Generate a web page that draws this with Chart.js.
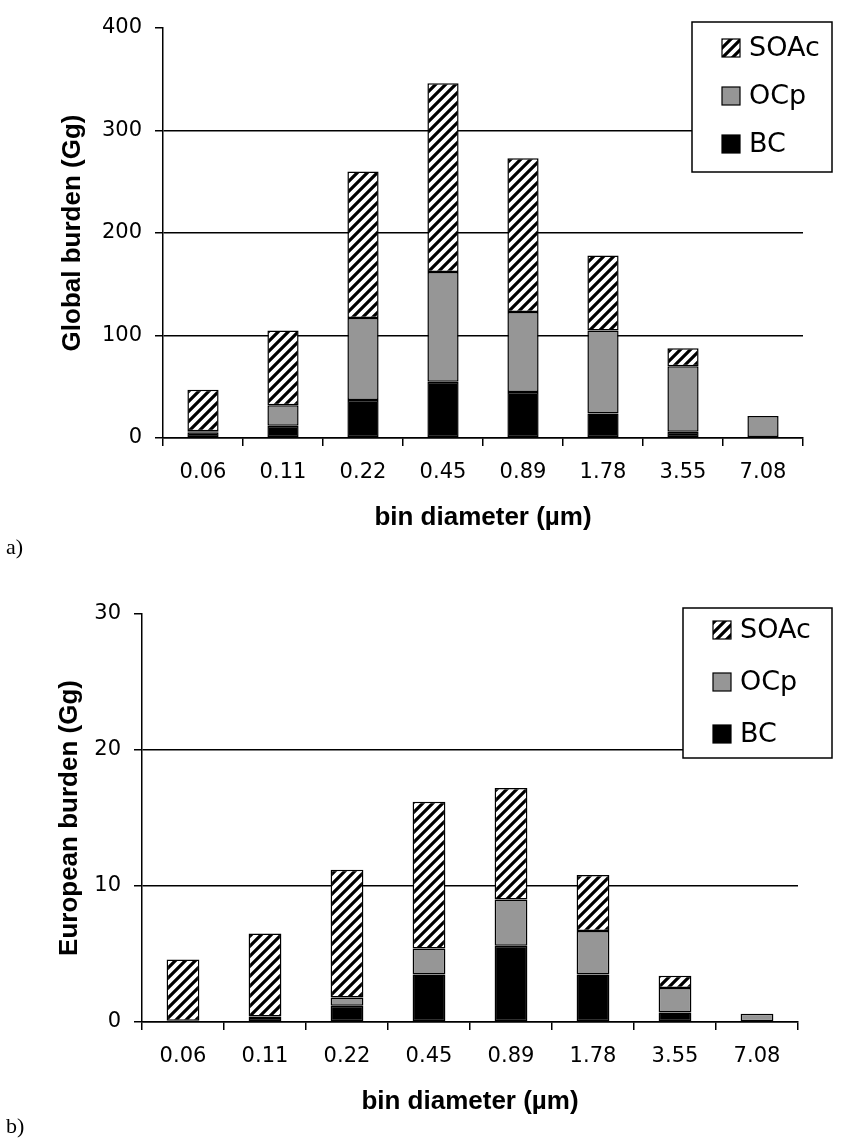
<!DOCTYPE html>
<html>
<head>
<meta charset="utf-8">
<script src="https://cdn.jsdelivr.net/npm/chart.js@4.4.1/dist/chart.umd.min.js"></script>
<style>
  body { margin: 0; background: #fff; width: 850px; height: 1140px; position: relative; overflow: hidden; }
  .panel { position: absolute; left: 0; width: 850px; }
  .tag { position: absolute; left: 6px; font: 22px "Liberation Serif", "Times New Roman", serif; color: #000; }
</style>
</head>
<body>
<div class="panel" style="top:0; height:560px;"><canvas id="chart-global" width="850" height="560"></canvas></div>
<div class="tag" style="top:534px;">a)</div>
<div class="panel" style="top:586px; height:554px;"><canvas id="chart-europe" width="850" height="554"></canvas></div>
<div class="tag" style="top:1113px;">b)</div>

<script>
// Bin diameters (µm)
const binLabels = ['0.06', '0.11', '0.22', '0.45', '0.89', '1.78', '3.55', '7.08'];

// a) Global burden (Gg)
const globalBC   = [5.5, 12, 37, 55, 45, 24, 6, 1];
const globalOCp  = [1, 20, 80, 107, 78, 81, 64, 20.5];
const globalSOAc = [40.5, 73, 143, 184, 150, 73, 17.5, 0];

// b) European burden (Gg)
const euroBC   = [0.05, 0.3, 1.2, 3.5, 5.6, 3.5, 0.7, 0.05];
const euroOCp  = [0.05, 0.1, 0.6, 1.9, 3.4, 3.2, 1.8, 0.55];
const euroSOAc = [4.5, 6.1, 9.4, 10.8, 8.2, 4.1, 0.9, 0];

const seriesNames = ['BC', 'OCp', 'SOAc'];

// diagonal hatch used for SOAc
function makeHatch(ctx) {
  const c = document.createElement('canvas');
  c.width = 10; c.height = 10;
  const g = c.getContext('2d');
  g.fillStyle = '#fff';
  g.fillRect(0, 0, 10, 10);
  g.strokeStyle = '#000';
  g.lineWidth = 3.2;
  g.beginPath();
  g.moveTo(-2, 12); g.lineTo(12, -2);
  g.moveTo(-2, 2); g.lineTo(2, -2);
  g.moveTo(8, 12); g.lineTo(12, 8);
  g.stroke();
  return ctx.createPattern(c, 'repeat');
}

// legend drawn in a bordered white box, top entry = top of stack
const boxLegend = {
  id: 'boxLegend',
  afterDraw(chart, args, opts) {
    const ctx = chart.ctx;
    ctx.save();
    ctx.fillStyle = '#fff';
    ctx.fillRect(opts.x, opts.y, opts.w, opts.h);
    ctx.strokeStyle = '#000';
    ctx.lineWidth = 1.5;
    ctx.strokeRect(opts.x, opts.y, opts.w, opts.h);
    const items = chart.data.datasets.slice().reverse();
    items.forEach((ds, i) => {
      const cy = opts.y + opts.first + i * opts.step;
      ctx.fillStyle = ds.backgroundColor;
      ctx.fillRect(opts.x + 30, cy - 9, 18, 18);
      ctx.lineWidth = 1.2;
      ctx.strokeRect(opts.x + 30, cy - 9, 18, 18);
      ctx.fillStyle = '#000';
      ctx.font = '27px "DejaVu Sans"';
      ctx.textBaseline = 'middle';
      ctx.fillText(ds.label, opts.x + 57, cy + 1);
    });
    ctx.restore();
  }
};

function makeChart(id, yTitle, yMax, yStep, bc, ocp, soac, geo) {
  const canvas = document.getElementById(id);
  const ctx = canvas.getContext('2d');
  const hatch = makeHatch(ctx);
  const colors = ['#000000', '#969696', hatch];
  const values = [bc, ocp, soac];

  return new Chart(canvas, {
    type: 'bar',
    data: {
      labels: binLabels,
      datasets: seriesNames.map((name, i) => ({
        label: name,
        data: values[i],
        backgroundColor: colors[i],
        borderColor: '#000',
        borderWidth: 1.5,
        borderSkipped: false,
        barPercentage: geo.barPct,
        categoryPercentage: 1
      }))
    },
    options: {
      responsive: false,
      animation: false,
      layout: { padding: { top: geo.top, right: geo.right, left: 0, bottom: 0 } },
      plugins: {
        legend: { display: false },
        tooltip: { enabled: false },
        boxLegend: geo.legend
      },
      scales: {
        x: {
          stacked: true,
          afterFit(scale) { scale.height = geo.xHeight; },
          border: { color: '#000', width: 1.5 },
          grid: { offset: true, drawOnChartArea: false, drawTicks: true, tickLength: 8, color: '#000', lineWidth: 1.5 },
          ticks: { color: '#000', padding: 14, font: { family: 'DejaVu Sans', size: 21 }, maxRotation: 0 },
          title: {
            display: true,
            text: 'bin diameter (µm)',
            color: '#000',
            font: { family: 'Liberation Sans', size: 26, weight: 'bold' },
            padding: { top: 0, bottom: geo.xTitlePad }
          }
        },
        y: {
          stacked: true,
          min: 0,
          max: yMax,
          afterFit(scale) { scale.width = geo.left; },
          border: { color: '#000', width: 1.5 },
          grid: {
            color: (c) => (c.tick && c.tick.value === yMax ? 'rgba(0,0,0,0)' : '#000'),
            tickColor: '#000',
            lineWidth: 1.5,
            tickLength: 8
          },
          ticks: { stepSize: yStep, color: '#000', padding: 13, font: { family: 'DejaVu Sans', size: 21 } },
          title: {
            display: true,
            text: yTitle,
            color: '#000',
            font: { family: 'Liberation Sans', size: 26, weight: 'bold' },
            padding: { top: geo.yTitlePad, bottom: 0 }
          }
        }
      }
    },
    plugins: [boxLegend]
  });
}

makeChart('chart-global', 'Global burden (Gg)', 400, 100, globalBC, globalOCp, globalSOAc, {
  top: 28, right: 47, left: 163, xHeight: 122, xTitlePad: 27, yTitlePad: 57, barPct: 0.39,
  legend: { x: 692, y: 22, w: 140, h: 150, first: 26, step: 48 }
});

makeChart('chart-europe', 'European burden (Gg)', 30, 10, euroBC, euroOCp, euroSOAc, {
  top: 28, right: 52, left: 142, xHeight: 118, xTitlePad: 23, yTitlePad: 54, barPct: 0.40,
  legend: { x: 683, y: 22, w: 149, h: 150, first: 22, step: 52 }
});
</script>
</body>
</html>
